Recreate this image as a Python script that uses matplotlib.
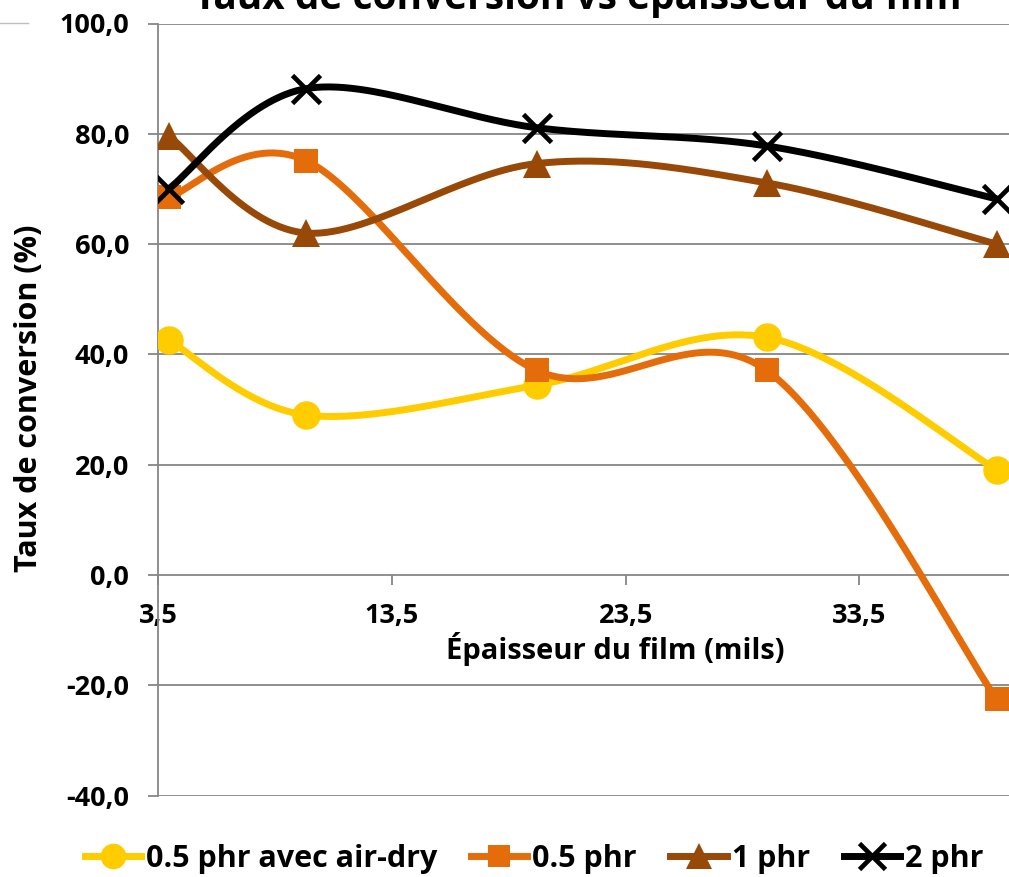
import numpy as np
import matplotlib
matplotlib.use('Agg')
import matplotlib.pyplot as plt
from matplotlib.ticker import FuncFormatter, FixedLocator
from matplotlib.lines import Line2D

# ---- data ----
thickness_mils = [3.94, 9.84, 19.69, 29.53, 39.37]
airdry_05 = [42.6, 29.0, 34.4, 43.1, 19.1]
phr_05 = [68.5, 75.1, 37.1, 37.1, -22.5]
phr_1 = [79.6, 62.0, 74.6, 71.1, 60.0]
phr_2 = [70.0, 88.2, 81.1, 77.8, 68.2]
series_labels = ['0.5 phr avec air-dry', '0.5 phr', '1 phr', '2 phr']
x_ticks = [3.5, 13.5, 23.5, 33.5]
y_ticks = [-40, -20, 0, 20, 40, 60, 80, 100]
title = 'Taux de conversion vs épaisseur du film'
x_label = 'Épaisseur du film (mils)'
y_label = 'Taux de conversion (%)'

plt.rcParams['font.family'] = ['Open Sans', 'DejaVu Sans']
plt.rcParams['font.weight'] = 'bold'

W, H = 1009, 877
fig = plt.figure(figsize=(W / 100, H / 100), dpi=100)
left = 158.3 / W
top = 1 - 23.5 / H
bottom = 1 - 795.6 / H
ax = fig.add_axes([left, bottom, 1 - left, top - bottom])

px_per_unit = 23.37
ax.set_xlim(3.5, 3.5 + (W - 158.3) / px_per_unit)
ax.set_ylim(-40, 100)


def smooth(x, y, n=60):
    P = np.column_stack([x, y]).astype(float)
    out = []
    m = len(P)
    t = np.linspace(0, 1, n)[:, None]
    for i in range(m - 1):
        p0 = P[i - 1] if i > 0 else P[i]
        p3 = P[i + 2] if i + 2 < m else P[i + 1]
        c1 = P[i] + (P[i + 1] - p0) / 6
        c2 = P[i + 1] - (p3 - P[i]) / 6
        seg = ((1 - t) ** 3) * P[i] + 3 * ((1 - t) ** 2) * t * c1 + 3 * (1 - t) * t ** 2 * c2 + t ** 3 * P[i + 1]
        out.append(seg if i == 0 else seg[1:])
    out = np.vstack(out)
    return out[:, 0], out[:, 1]


grid_c = '#868686'
for yt in y_ticks:
    if yt != 0:
        ax.axhline(yt, color=grid_c, lw=1.3, zorder=1)

styles = [
    dict(color='#FFCC00', marker='o', ms=20.5, mew=0),
    dict(color='#E46C0A', marker='s', ms=17, mew=0),
    dict(color='#984807', marker='^', ms=20.5, mew=0),
    dict(color='#000000', marker='x', ms=20.5, mew=3.4),
]
series = [airdry_05, phr_05, phr_1, phr_2]
handles = []
for i, (vals, st, lab) in enumerate(zip(series, styles, series_labels)):
    sx, sy = smooth(thickness_mils, vals)
    ax.plot(sx, sy, color=st['color'], lw=5.0, solid_capstyle='round', zorder=3 + i)
    ax.plot(thickness_mils, vals, linestyle='none', marker=st['marker'], ms=st['ms'],
            color=st['color'], mew=st['mew'], mec=st['color'], zorder=3 + i)
    handles.append(Line2D([], [], color=st['color'], lw=5.0, marker=st['marker'],
                          ms=st['ms'] * 0.9, mew=st['mew'], mec=st['color']))

for s in ['top', 'right']:
    ax.spines[s].set_visible(False)
ax.spines['left'].set_color(grid_c)
ax.spines['left'].set_linewidth(1.3)
ax.spines['bottom'].set_color(grid_c)
ax.spines['bottom'].set_linewidth(1.3)
ax.spines['bottom'].set_position(('data', 0))

ax.xaxis.set_major_locator(FixedLocator(x_ticks))
ax.yaxis.set_major_locator(FixedLocator(y_ticks))
ax.xaxis.set_major_formatter(FuncFormatter(lambda v, p: f'{v:.1f}'.replace('.', ',')))
ax.yaxis.set_major_formatter(FuncFormatter(lambda v, p: f'{v:.1f}'.replace('.', ',')))
ax.tick_params(axis='both', colors=grid_c, width=1.3, length=7, labelcolor='black',
               labelsize=19.5)
ax.tick_params(axis='x', pad=13)
ax.tick_params(axis='y', pad=14)
for lab in ax.get_xticklabels() + ax.get_yticklabels():
    lab.set_fontweight('bold')

fig.text(578 / W, 1 - 9 / H, title, ha='center', va='baseline', fontsize=28, fontweight='bold')
fig.text(615 / W, 1 - 649 / H, x_label, ha='center', va='center', fontsize=21, fontweight='bold')
fig.text(29 / W, 1 - 398 / H, y_label, ha='center', va='center', rotation=90, fontsize=22,
         fontweight='bold')

fig.legend(handles, series_labels, loc='center', bbox_to_anchor=(534 / W, 1 - 859 / H), ncol=4,
           frameon=False, handlelength=1.85, handletextpad=0.16, columnspacing=1.1,
           prop=dict(weight='bold', size=22))

fig.add_artist(Line2D([0, 28 / W], [1 - 23 / H, 1 - 23 / H], color='#BFBFBF', lw=1.0))

fig.savefig('out.png', dpi=100)
